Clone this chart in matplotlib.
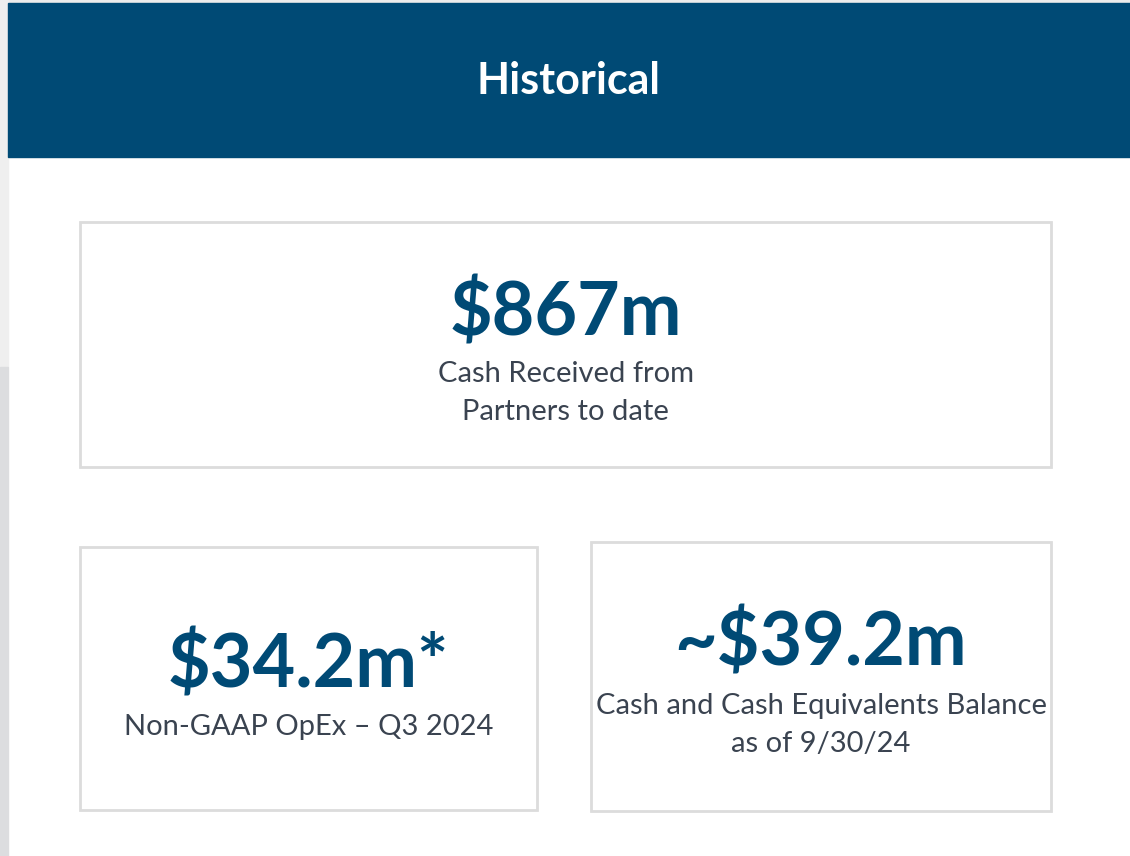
import matplotlib
matplotlib.use("Agg")
import matplotlib.pyplot as plt
from matplotlib.patches import Rectangle

# ---- data ----
title = "Historical"
kpi_values = ["$867m", "$34.2m*", "~$39.2m"]
kpi_labels = [["Cash Received from", "Partners to date"],
              ["Non-GAAP OpEx \u2013 Q3 2024"],
              ["Cash and Cash Equivalents Balance", "as of 9/30/24"]]

# ---- layout (pixel coordinates, y down) ----
boxes = [(80, 222, 1051, 467), (80, 547, 537, 810), (591, 542, 1051, 811)]
value_base = [335, 687, 666]
label_base = [382, 735, 714]
line_step = 38

W, H = 1130, 856
blue = "#004a75"
text_grey = "#3a4350"
border = "#dcdcdc"

fig = plt.figure(figsize=(W / 100, H / 100), dpi=100)
ax = fig.add_axes([0, 0, 1, 1])
ax.set_xlim(0, W)
ax.set_ylim(H, 0)
ax.axis("off")

# background strips
ax.add_patch(Rectangle((0, 0), W, H, color="white", zorder=0))
ax.add_patch(Rectangle((0, 0), W, 3, color="#ececec", zorder=1))
ax.add_patch(Rectangle((0, 0), 8, 367, color="#efefef", zorder=1))
ax.add_patch(Rectangle((0, 367), 8, H - 367, color="#dcdddf", zorder=1))

# banner
ax.add_patch(Rectangle((8, 3), W - 8, 154, color=blue, zorder=2))
ax.text((8 + W) / 2, 94, title, color="white", fontsize=31, fontweight="bold",
        family="Lato", ha="center", va="baseline", zorder=3)

for (x0, y0, x1, y1), v, lab, vy, ly in zip(boxes, kpi_values, kpi_labels,
                                            value_base, label_base):
    ax.add_patch(Rectangle((x0, y0), x1 - x0, y1 - y0, fill=False,
                           edgecolor=border, linewidth=2, zorder=3))
    cx = (x0 + x1) / 2
    ax.text(cx, vy, v, color=blue, fontsize=53, fontweight="bold", family="Lato",
            ha="center", va="baseline", zorder=4)
    for i, line in enumerate(lab):
        ax.text(cx, ly + i * line_step, line, color=text_grey, fontsize=21,
                family="Lato", ha="center", va="baseline", zorder=4)

fig.savefig("out.png", dpi=100)
